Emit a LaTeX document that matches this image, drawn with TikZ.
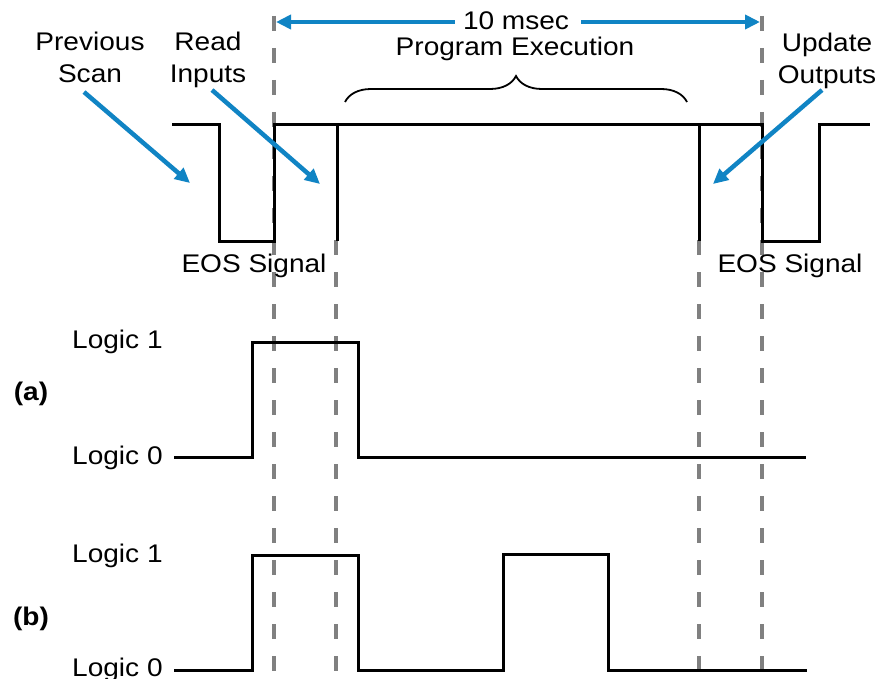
\documentclass[tikz,border=0pt]{standalone}
\usepackage{fontspec}
\setmainfont{Liberation Sans}[FakeStretch=1.1]
\usetikzlibrary{arrows.meta,decorations.pathreplacing}
\definecolor{arrowblue}{RGB}{16,132,196}
\definecolor{dashgray}{RGB}{128,128,128}
\begin{document}
\begin{tikzpicture}[x=1pt,y=-1pt,
  wave/.style={line width=3pt,line join=miter,black},
  guide/.style={line width=3.2pt,dashgray,dash pattern=on 15pt off 17pt},
  bluearrow/.style={line width=4.5pt,arrowblue,-{Triangle[length=15pt,width=14pt]}},
  lbl/.style={font=\fontsize{25.5}{32}\selectfont,inner sep=0pt,align=center},
  lab/.style={font=\fontsize{25.5}{32}\selectfont\bfseries,inner sep=0pt}]
\useasboundingbox (0,0) rectangle (883,679);
\fill[white] (0,0) rectangle (883,679);
% guide lines
\draw[guide] (274,16) -- (274,679);
\draw[guide] (762,16) -- (762,679);
\draw[guide] (336,240) -- (336,679);
\draw[guide] (699,240) -- (699,679);
% top waveform
\draw[wave] (172,125) -- (219,125) -- (219,241) -- (274,241) -- (274,125) -- (762,125)
  -- (762,241) -- (819,241) -- (819,125) -- (870,125);
\draw[wave] (337,125) -- (337,241);
\draw[wave] (699,125) -- (699,241);
% texts
\node[lbl] (prev) at (90,57) {Previous\\Scan};
\node[lbl] (read) at (208,60) {Read\\Inputs};
\node[lbl] (upd) at (827,61) {Update\\Outputs};
\node[lbl] (ten) at (516,21) {10 msec};
\node[lbl] (prog) at (515,49) {Program Execution};
\node[lbl] (eos1) at (254,266) {EOS Signal};
\node[lbl] (eos2) at (790,266) {EOS Signal};
% arrows
\coordinate (prevtip) at (190,183);
\coordinate (readtip) at (320,184);
\coordinate (updtip) at (713,184);
\coordinate (lefttip) at (276,22);
\coordinate (righttip) at (760,22);
\draw[bluearrow] (84,92) -- (prevtip);
\draw[bluearrow] (212,90) -- (readtip);
\draw[bluearrow] (822,90) -- (updtip);
\draw[bluearrow] (ten.west |- 0,22) ++(-8,0) -- (lefttip);
\draw[bluearrow] (ten.east |- 0,22) ++(12,0) -- (righttip);
% brace
\draw[line width=1.8pt,decorate,decoration={brace,amplitude=26pt,aspect=0.5}] (345,102) -- (687,102);
% (a)
\node[lab] (a) at (31,394) {(a)};
\node[lbl,anchor=west] (a1) at (72,342) {Logic 1};
\node[lbl,anchor=west] (a0) at (72,458) {Logic 0};
\draw[wave] (174,457) -- (252,457) -- (252,342) -- (358,342) -- (358,457) -- (806,457);
% (b)
\node[lab] (b) at (31,619) {(b)};
\node[lbl,anchor=west] (b1) at (72,556) {Logic 1};
\node[lbl,anchor=west] (b0) at (72,670) {Logic 0};
\draw[wave] (174,670) -- (252,670) -- (252,555) -- (358,555) -- (358,670) -- (503,670)
  -- (503,554) -- (608,554) -- (608,670) -- (807,670);
\end{tikzpicture}
\end{document}
